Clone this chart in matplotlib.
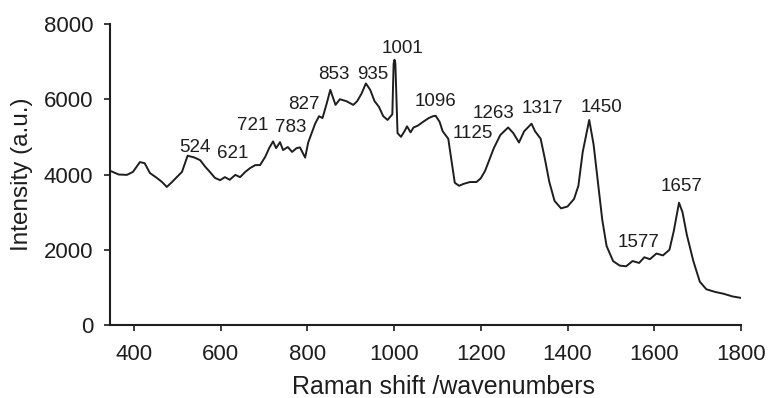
import matplotlib
matplotlib.use("Agg")
import matplotlib.pyplot as plt

plt.rcParams['font.family'] = ['Liberation Sans', 'DejaVu Sans']

# Raman spectrum (wavenumber, intensity)
wavenumber = [345, 365, 384, 398, 414, 425, 437, 453, 465, 476, 488, 499, 511,
              524, 540, 553, 565, 576, 587, 599, 610, 621, 634, 645, 657, 668,
              680, 691, 703, 712, 721, 728, 737, 744, 755, 765, 775, 783, 795,
              802, 818, 827, 835, 845, 853, 865, 875, 890, 906, 915, 925, 935,
              945, 955, 965, 975, 985, 996, 999, 1001, 1003, 1008, 1016, 1024,
              1030, 1038, 1045, 1055, 1067, 1080, 1090, 1096, 1105, 1112, 1125,
              1132, 1140, 1150, 1160, 1175, 1190, 1200, 1210, 1220, 1230, 1245,
              1263, 1275, 1288, 1300, 1317, 1325, 1338, 1348, 1358, 1370, 1385,
              1400, 1415, 1425, 1435, 1450, 1460, 1470, 1480, 1490, 1505, 1520,
              1535, 1550, 1565, 1577, 1590, 1605, 1620, 1635, 1645, 1657, 1665,
              1675, 1690, 1705, 1720, 1740, 1760, 1780, 1800]
intensity = [4100, 4000, 3990, 4070, 4330, 4300, 4040, 3910, 3800, 3670, 3800,
             3930, 4070, 4500, 4450, 4380, 4200, 4060, 3910, 3850, 3930, 3860,
             3990, 3930, 4070, 4170, 4250, 4250, 4470, 4700, 4880, 4700, 4860,
             4650, 4730, 4600, 4700, 4720, 4450, 4850, 5350, 5550, 5500, 5900,
             6250, 5850, 6000, 5950, 5850, 5950, 6150, 6420, 6250, 5950, 5800,
             5550, 5450, 5600, 6950, 7050, 6950, 5100, 5000, 5150, 5280, 5120,
             5250, 5300, 5400, 5500, 5550, 5560, 5400, 5150, 4950, 4400, 3780,
             3700, 3750, 3800, 3800, 3900, 4100, 4400, 4700, 5050, 5250, 5100,
             4850, 5150, 5350, 5150, 4950, 4400, 3800, 3300, 3100, 3150, 3350,
             3700, 4600, 5450, 4800, 3800, 2800, 2100, 1700, 1580, 1560, 1700,
             1650, 1800, 1750, 1900, 1850, 2000, 2500, 3250, 3000, 2400, 1700,
             1150, 950, 880, 830, 760, 720]

# Peak labels and where their text sits
peak_labels = ['524', '621', '721', '783', '827', '853', '935', '1001', '1096',
               '1125', '1263', '1317', '1450', '1577', '1657']
label_x = [541, 629, 675, 761, 791, 860, 950, 1020, 1096, 1181, 1230, 1341,
           1478, 1563, 1662]
label_y = [4730, 4570, 5290, 5240, 5870, 6670, 6670, 7360, 5930, 5100, 5630,
           5760, 5790, 2180, 3670]

x_ticks = [400, 600, 800, 1000, 1200, 1400, 1600, 1800]
y_ticks = [0, 2000, 4000, 6000, 8000]

ink = '#1e1e1e'

fig = plt.figure(figsize=(7.74, 3.98), dpi=100)
ax = fig.add_axes([0.1421, 0.1834, 0.8153, 0.7563])

ax.plot(wavenumber, intensity, color=ink, lw=1.4, solid_joinstyle='round')

for txt, lx, ly in zip(peak_labels, label_x, label_y):
    ax.text(lx, ly, txt, ha='center', va='center', fontsize=13.5, color=ink)

ax.set_xlim(345, 1800)
ax.set_ylim(0, 8000)
ax.set_xticks(x_ticks)
ax.set_yticks(y_ticks)

for side in ('top', 'right'):
    ax.spines[side].set_visible(False)
for side in ('left', 'bottom'):
    ax.spines[side].set_color(ink)
    ax.spines[side].set_linewidth(1.5)

ax.tick_params(axis='both', direction='out', length=4, width=1.2,
               color=ink, labelcolor=ink, labelsize=16)
ax.tick_params(axis='x', pad=10)
ax.tick_params(axis='y', pad=8)

ax.set_xlabel('Raman shift /wavenumbers', fontsize=18, color=ink)
ax.xaxis.set_label_coords(0.528, -0.165)
ax.set_ylabel('Intensity (a.u.)', fontsize=17.5, color=ink, labelpad=8)

fig.savefig('out.png', dpi=100)
